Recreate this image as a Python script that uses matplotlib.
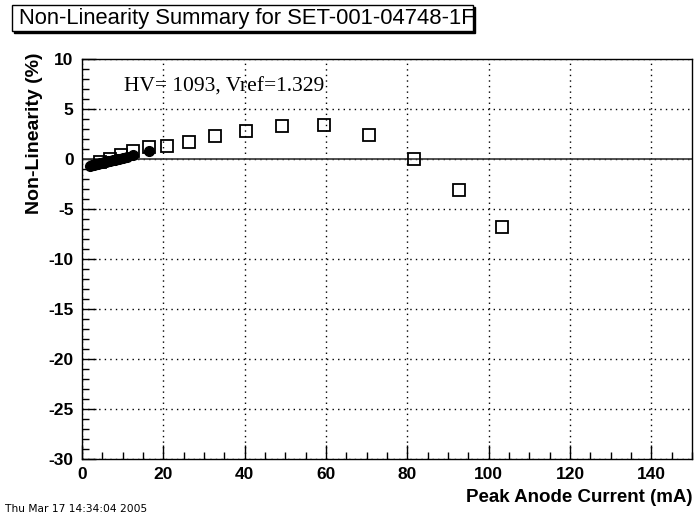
import matplotlib
matplotlib.use("Agg")
import matplotlib.pyplot as plt
from matplotlib.ticker import MultipleLocator
from matplotlib.patches import Rectangle

plt.rcParams["axes.unicode_minus"] = False

# Filled circles (low current scan)
circ_x = [2.0, 2.5, 3.0, 3.5, 4.0, 4.5, 5.0, 5.5, 6.0, 6.5, 7.0, 7.5, 8.0, 8.5, 9.0, 10.0, 11.0, 12.5, 16.4]
circ_y = [-0.65, -0.6, -0.55, -0.5, -0.45, -0.4, -0.35, -0.3, -0.25, -0.2, -0.15, -0.1, -0.05, 0.0, 0.05, 0.15, 0.25, 0.45, 0.8]

# Open squares (high current scan)
sq_x = [4.5, 7.0, 9.7, 12.6, 16.4, 20.9, 26.3, 32.7, 40.3, 49.3, 59.6, 70.5, 81.7, 92.7, 103.3]
sq_y = [-0.3, 0.0, 0.4, 0.85, 1.25, 1.3, 1.7, 2.3, 2.8, 3.3, 3.4, 2.4, 0.05, -3.1, -6.75]

annot = "HV= 1093, Vref=1.329"
title = "Non-Linearity Summary for SET-001-04748-1F"
xlabel = "Peak Anode Current (mA)"
ylabel = "Non-Linearity (%)"
datestr = "Thu Mar 17 14:34:04 2005"

W, H = 696, 521
fig = plt.figure(figsize=(W / 100, H / 100), dpi=100)
fig.patch.set_facecolor("white")
ax = fig.add_axes([82 / W, 1 - 459 / H, (692 - 82) / W, (459 - 59) / H])

ax.set_xlim(0, 150)
ax.set_ylim(-30, 10)
ax.xaxis.set_major_locator(MultipleLocator(20))
ax.xaxis.set_minor_locator(MultipleLocator(5))
ax.yaxis.set_major_locator(MultipleLocator(5))
ax.yaxis.set_minor_locator(MultipleLocator(1))
ax.grid(True, which="major", linestyle=(0, (1, 3)), color="black", linewidth=1.0)
ax.tick_params(which="both", direction="in", top=False, right=False, color="black")
ax.tick_params(which="major", length=10, width=1.0, labelsize=12.5, pad=6)
ax.tick_params(which="minor", length=5, width=1.0)
for lab in ax.get_xticklabels() + ax.get_yticklabels():
    lab.set_fontweight("bold")
    lab.set_family("Liberation Sans")
for sp in ax.spines.values():
    sp.set_color("black")
    sp.set_linewidth(1.0)

ax.axhline(0, color="#333333", linewidth=1.2, zorder=2)

ax.plot(sq_x, sq_y, linestyle="none", marker="s", markersize=8,
        markerfacecolor="none", markeredgecolor="black", markeredgewidth=1.3, zorder=3)
ax.plot(circ_x, circ_y, linestyle="none", marker="o", markersize=7,
        markerfacecolor="black", markeredgecolor="black", zorder=4)

ax.text(124 / W, 1 - 87 / H, annot, transform=fig.transFigure, fontsize=15.5,
        family="Liberation Serif", va="center", ha="left")

# Title box with shadow
bx0, by0, bx1, by1 = 12, 5, 473, 31
fig.patches.append(Rectangle((bx0 / W + 2 / W, 1 - (by1 + 2) / H), (bx1 - bx0) / W, (by1 - by0) / H,
                             transform=fig.transFigure, facecolor="black", edgecolor="black", zorder=1))
fig.patches.append(Rectangle((bx0 / W, 1 - by1 / H), (bx1 - bx0) / W, (by1 - by0) / H,
                             transform=fig.transFigure, facecolor="white", edgecolor="black",
                             linewidth=1.0, zorder=2))
fig.text((bx0 + 7) / W, 1 - ((by0 + by1) / 2 + 0.5) / H, title, fontsize=15.8, family="Liberation Sans",
         fontweight="normal", va="center", ha="left", zorder=3)

fig.text(692 / W, 1 - 497 / H, xlabel, fontsize=13.5, family="Liberation Sans", fontweight="bold",
         ha="right", va="center")
fig.text(35 / W, 1 - 52 / H, ylabel, fontsize=14, family="Liberation Sans", fontweight="bold",
         rotation=90, ha="center", va="top")
fig.text(5 / W, 1 - 509 / H, datestr, fontsize=7.7, family="Liberation Sans Narrow",
         ha="left", va="center")

fig.savefig("out.png", dpi=100)
